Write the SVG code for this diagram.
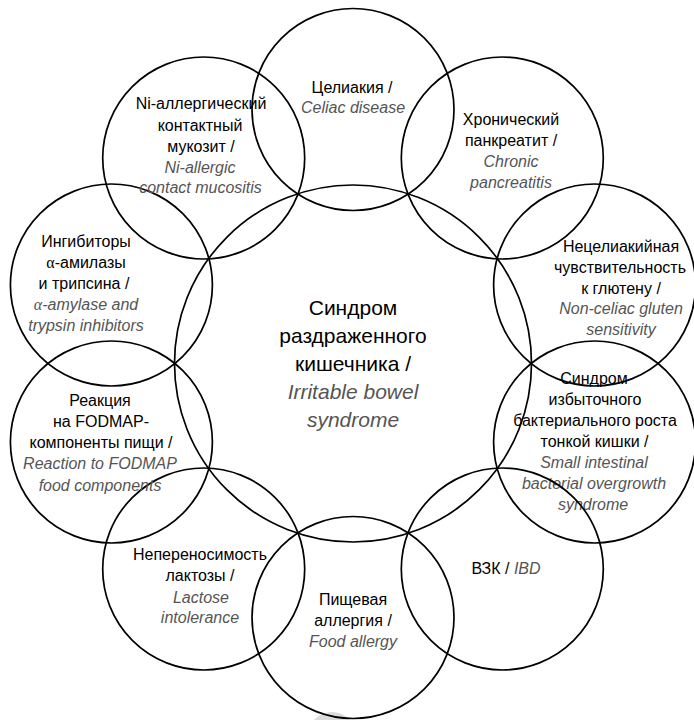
<svg xmlns="http://www.w3.org/2000/svg" width="694" height="720" viewBox="0 0 694 720">
<style>
.c{fill:none;stroke:#000;stroke-width:1.7}
text{font-family:"Liberation Sans",Arial,sans-serif;font-size:16px;text-anchor:middle;fill:#000}
.en{font-style:italic;fill:#555}
.big{font-size:21px}
.a{font-family:"Liberation Serif","Times New Roman",serif}
</style>
<rect width="694" height="720" fill="#fff"/>
<circle cx="332" cy="736" r="24" fill="#dcdcdc"/>
<g id="connectors"></g>
<g id="ibs">
<circle class="c" cx="353" cy="363.5" r="178.5"/>
<text class="big" x="353" y="315">Синдром</text>
<text class="big" x="353" y="343">раздраженного</text>
<text class="big" x="353" y="371">кишечника /</text>
<text class="big en" x="353" y="399">Irritable bowel</text>
<text class="big en" x="353" y="427">syndrome</text>
</g>
<g id="celiac">
<circle class="c" cx="353" cy="109.5" r="101"/>
<text x="352" y="93">Целиакия /</text>
<text class="en" x="353" y="113">Celiac disease</text>
</g>
<g id="pancreatitis">
<circle class="c" cx="502.3" cy="158" r="101"/>
<text x="511" y="125">Хронический</text>
<text x="511" y="146">панкреатит /</text>
<text class="en" x="511" y="167">Chronic</text>
<text class="en" x="511" y="188">pancreatitis</text>
</g>
<g id="gluten">
<circle class="c" cx="594.6" cy="285" r="101"/>
<text x="621" y="252">Нецелиакийная</text>
<text x="620" y="273">чувствительность</text>
<text x="621" y="293.5">к глютену /</text>
<text class="en" x="621" y="314">Non-celiac gluten</text>
<text class="en" x="621" y="335">sensitivity</text>
</g>
<g id="sibo">
<circle class="c" cx="594.6" cy="442" r="101"/>
<text x="594" y="383.5">Синдром</text>
<text x="595" y="405">избыточного</text>
<text x="595" y="426">бактериального роста</text>
<text x="594.5" y="447">тонкой кишки /</text>
<text class="en" x="594" y="468">Small intestinal</text>
<text class="en" x="594" y="489">bacterial overgrowth</text>
<text class="en" x="593" y="510">syndrome</text>
</g>
<g id="ibd">
<circle class="c" cx="502.3" cy="569" r="101"/>
<text x="506" y="574">ВЗК / <tspan class="en">IBD</tspan></text>
</g>
<g id="food-allergy">
<circle class="c" cx="353" cy="617.5" r="101"/>
<text x="353" y="605">Пищевая</text>
<text x="353" y="626">аллергия /</text>
<text class="en" x="353" y="646.5">Food allergy</text>
</g>
<g id="lactose">
<circle class="c" cx="203.7" cy="569" r="101"/>
<text x="200" y="560">Непереносимость</text>
<text x="200" y="581">лактозы /</text>
<text class="en" x="201" y="602.5">Lactose</text>
<text class="en" x="200" y="623">intolerance</text>
</g>
<g id="fodmap">
<circle class="c" cx="111.4" cy="442" r="101"/>
<text x="100" y="406">Реакция</text>
<text x="101" y="427">на FODMAP-</text>
<text x="101" y="448">компоненты пищи /</text>
<text class="en" x="100" y="469">Reaction to FODMAP</text>
<text class="en" x="100" y="490.5">food components</text>
</g>
<g id="amylase">
<circle class="c" cx="111.4" cy="285" r="101"/>
<text x="86" y="247">Ингибиторы</text>
<text x="86" y="268"><tspan class="a">α</tspan>-амилазы</text>
<text x="84" y="289">и трипсина /</text>
<text class="en" x="86" y="310"><tspan class="a">α</tspan>-amylase and</text>
<text class="en" x="86" y="330.5">trypsin inhibitors</text>
</g>
<g id="ni-mucositis">
<circle class="c" cx="203.7" cy="158" r="101"/>
<text x="201" y="109">Ni-аллергический</text>
<text x="200" y="130.5">контактный</text>
<text x="201" y="151.5">мукозит /</text>
<text class="en" x="200" y="172.5">Ni-allergic</text>
<text class="en" x="200.5" y="193">contact mucositis</text>
</g>
</svg>
